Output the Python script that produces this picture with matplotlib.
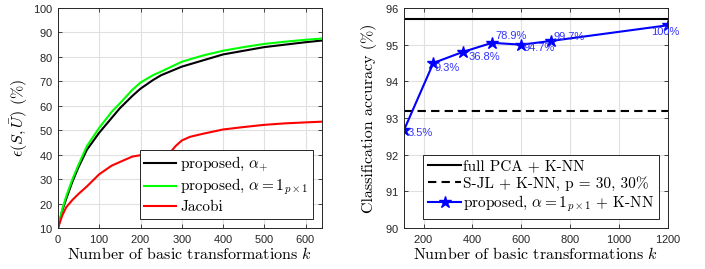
import numpy as np
import matplotlib
matplotlib.use("Agg")
import matplotlib.pyplot as plt

plt.rcParams["mathtext.fontset"] = "cm"
plt.rcParams["font.family"] = "Liberation Sans"
plt.rcParams["axes.formatter.use_mathtext"] = True

# ----- left panel: error vs number of transformations -----
k_left = [0, 10, 20, 35, 50, 70, 100, 130, 150, 180, 200, 230, 250, 300, 350, 400, 450, 500, 550, 600, 640]
err_alpha_plus = [10, 17, 22, 29, 35, 42, 49, 55, 59, 64, 67, 70.5, 72.5, 76, 78.5, 81, 82.5, 84, 85, 86, 86.7]
err_alpha_ones = [10, 17.5, 23, 30, 36, 43.5, 51, 57.5, 61, 66.5, 69.5, 72.5, 74, 78, 80.5, 82.5, 84, 85.3, 86.2, 87, 87.5]
k_jacobi = [0, 10, 20, 35, 50, 70, 100, 130, 150, 180, 200, 230, 270, 275, 285, 300, 320, 350, 400, 450, 500, 550, 600, 640]
err_jacobi = [10, 15, 18.5, 21.5, 24, 27, 32, 35.5, 37, 39.2, 39.8, 40.1, 40.3, 41.5, 43.5, 45.8, 47.3, 48.5, 50.3, 51.3, 52.2, 52.8, 53.2, 53.5]

# ----- right panel: classification accuracy -----
k_right = [120, 240, 360, 480, 600, 720, 1200]
acc_proposed = [92.67, 94.5, 94.8, 95.05, 95.0, 95.1, 95.53]
pct_labels = ["3.5%", "9.3%", "36.8%", "78.9%", "94.7%", "99.7%", "100%"]
acc_full_pca = 95.7
acc_sjl = 93.2

SERIF = ["cmr10", "DejaVu Serif"]

fig = plt.figure(figsize=(7.05, 2.69), dpi=100)
ax1 = fig.add_axes([58/705, 1-228/269, 264/705, 220/269])
ax2 = fig.add_axes([404/705, 1-228/269, 264/705, 220/269])

for ax in (ax1, ax2):
    ax.grid(True, color="#e0e0e0", lw=0.8)
    ax.set_axisbelow(True)
    ax.tick_params(direction="in", top=True, right=True, labelsize=8, length=3, width=0.6, colors="#262626")
    for s in ax.spines.values():
        s.set_linewidth(0.7)
        s.set_color("#262626")

ax1.plot(k_left, err_alpha_plus, color="black", lw=1.5, label=r"proposed, $\alpha_{+}$")
ax1.plot(k_left, err_alpha_ones, color="#00ff00", lw=1.5, label=r"proposed, $\alpha = 1_{p\times 1}$")
ax1.plot(k_jacobi, err_jacobi, color="red", lw=1.5, label="Jacobi")
ax1.set_xlim(0, 640)
ax1.set_ylim(10, 100)
ax1.set_xticks(range(0, 700, 100))
ax1.set_yticks(range(10, 110, 10))
ax1.set_xlabel(r"Number of basic transformations $k$", family=SERIF, fontsize=11.5, labelpad=1)
ax1.set_ylabel(r"$\epsilon(S,\bar{U})$ (%)", family=SERIF, fontsize=11.5, labelpad=2)
leg1 = ax1.legend(loc="lower right", prop={"family": SERIF, "size": 11},
                  fancybox=False, edgecolor="#262626", framealpha=1, borderpad=0.3,
                  handlelength=2.1, handletextpad=0.25, labelspacing=0.2,
                  borderaxespad=0.6)
leg1.get_frame().set_linewidth(0.7)

ax2.axhline(acc_full_pca, color="black", lw=1.5, label="full PCA + K-NN")
ax2.axhline(acc_sjl, color="black", lw=1.5, ls=(0, (4, 2.5)), label="S-JL + K-NN, p = 30, 30%")
ax2.plot(k_right, acc_proposed, color="blue", lw=1.5, marker="*", ms=9,
         label=r"proposed, $\alpha = 1_{p\times 1}$ + K-NN")
# label offsets in pixels (dx, dy)
offsets = [(4, -3), (1, -5), (6, -5), (3, 7), (2, -3), (3, 4), (-17, -7)]
for x, y, lab, (dx, dy) in zip(k_right, acc_proposed, pct_labels, offsets):
    ax2.annotate(lab, (x, y), xytext=(dx * 0.72, dy * 0.72), textcoords="offset points",
                 color="#3333ff", fontsize=8, va="center", ha="left")
ax2.set_xlim(120, 1200)
ax2.set_ylim(90, 96)
ax2.set_xticks(range(200, 1400, 200))
ax2.set_yticks(range(90, 97))
ax2.set_xlabel(r"Number of basic transformations $k$", family=SERIF, fontsize=11.5, labelpad=1)
ax2.set_ylabel(r"Classification accuracy (%)", family=SERIF, fontsize=11.5, labelpad=6)
leg2 = ax2.legend(loc="lower right", prop={"family": SERIF, "size": 11},
                  fancybox=False, edgecolor="#262626", framealpha=1, borderpad=0.3,
                  handlelength=2.2, handletextpad=0.1, labelspacing=0.2,
                  borderaxespad=0.6)
leg2.get_frame().set_linewidth(0.7)

fig.savefig("out.png", dpi=100)
